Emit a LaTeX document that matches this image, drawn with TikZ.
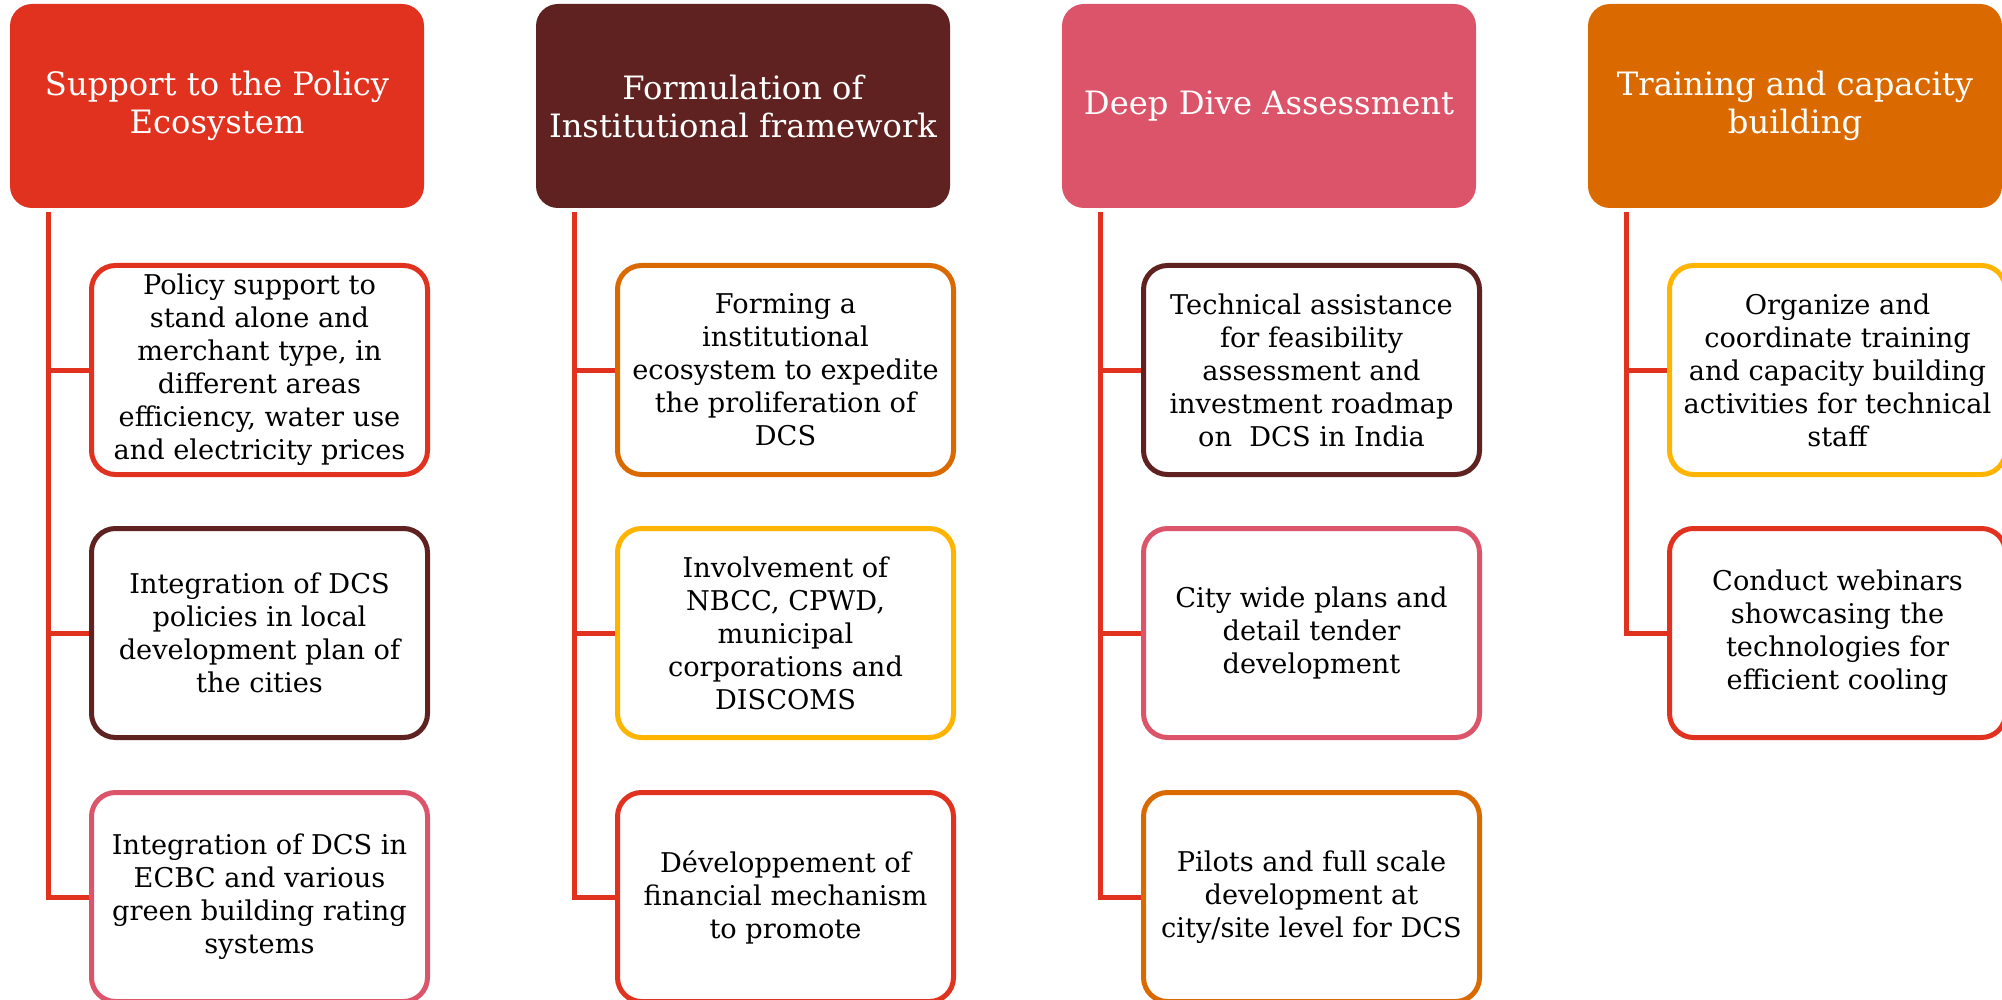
\documentclass[tikz,border=0pt]{standalone}
\usepackage{fontspec}
\setmainfont{DejaVu Serif}
\usetikzlibrary{backgrounds}
\definecolor{cred}{HTML}{E0321F}
\definecolor{cbrown}{HTML}{5F2220}
\definecolor{cpink}{HTML}{DC5469}
\definecolor{corange}{HTML}{DA6A00}
\definecolor{camber}{HTML}{FFB400}
\begin{document}
\begin{tikzpicture}[x=1pt,y=-1pt,
  head/.style={rounded corners=22pt, minimum width=414pt, minimum height=204pt,
    inner sep=0pt, align=center, text=white, font=\fontsize{32.2}{38}\selectfont},
  item/.style={draw, line width=5pt, rounded corners=24pt, fill=white,
    minimum width=336pt, minimum height=209pt, inner sep=0pt, align=center,
    font=\fontsize{27.2}{33}\selectfont},
  link/.style={draw=cred, line width=5pt}]
\useasboundingbox (0,0) rectangle (2002,1000);

% column 1
\node[head, fill=cred] (h1) at (217,106) {Support to the Policy\\Ecosystem};
\node[item, draw=cred] (c11) at (259.5,370) {Policy support to\\stand alone and\\merchant type, in\\different areas\\efficiency, water use\\and electricity prices};
\node[item, draw=cbrown] (c12) at (259.5,633) {Integration of DCS\\policies in local\\development plan of\\the cities};
\node[item, draw=cpink] (c13) at (259.5,897) {Integration of DCS in\\ECBC and various\\green building rating\\systems};

% column 2
\node[head, fill=cbrown] (h2) at (743,106) {Formulation of\\Institutional framework};
\node[item, draw=corange] (c21) at (785.5,370) {Forming a\\institutional\\ecosystem to expedite\\the proliferation of\\DCS};
\node[item, draw=camber] (c22) at (785.5,633) {Involvement of\\NBCC, CPWD,\\municipal\\corporations and\\DISCOMS};
\node[item, draw=cred] (c23) at (785.5,897) {Développement of\\financial mechanism\\to promote};

% column 3
\node[head, fill=cpink] (h3) at (1269,106) {Deep Dive Assessment};
\node[item, draw=cbrown] (c31) at (1311.5,370) {Technical assistance\\for feasibility\\assessment and\\investment roadmap\\on~~DCS in India};
\node[item, draw=cpink] (c32) at (1311.5,633) {City wide plans and\\detail tender\\development};
\node[item, draw=corange] (c33) at (1311.5,897) {Pilots and full scale\\development at\\city/site level for DCS};

% column 4
\node[head, fill=corange] (h4) at (1795,106) {Training and capacity\\building};
\node[item, draw=camber] (c41) at (1837.5,370) {Organize and\\coordinate training\\and capacity building\\activities for technical\\staff};
\node[item, draw=cred] (c42) at (1837.5,633) {Conduct webinars\\showcasing the\\technologies for\\efficient cooling};

\begin{scope}[on background layer]
  \foreach \h/\c in {h1/c11,h1/c12,h1/c13,h2/c21,h2/c22,h2/c23,h3/c31,h3/c32,h3/c33,h4/c41,h4/c42}
    \draw[link] ([xshift=39pt,yshift=-4pt]\h.south west) |- (\c.west);
\end{scope}
\end{tikzpicture}
\end{document}
